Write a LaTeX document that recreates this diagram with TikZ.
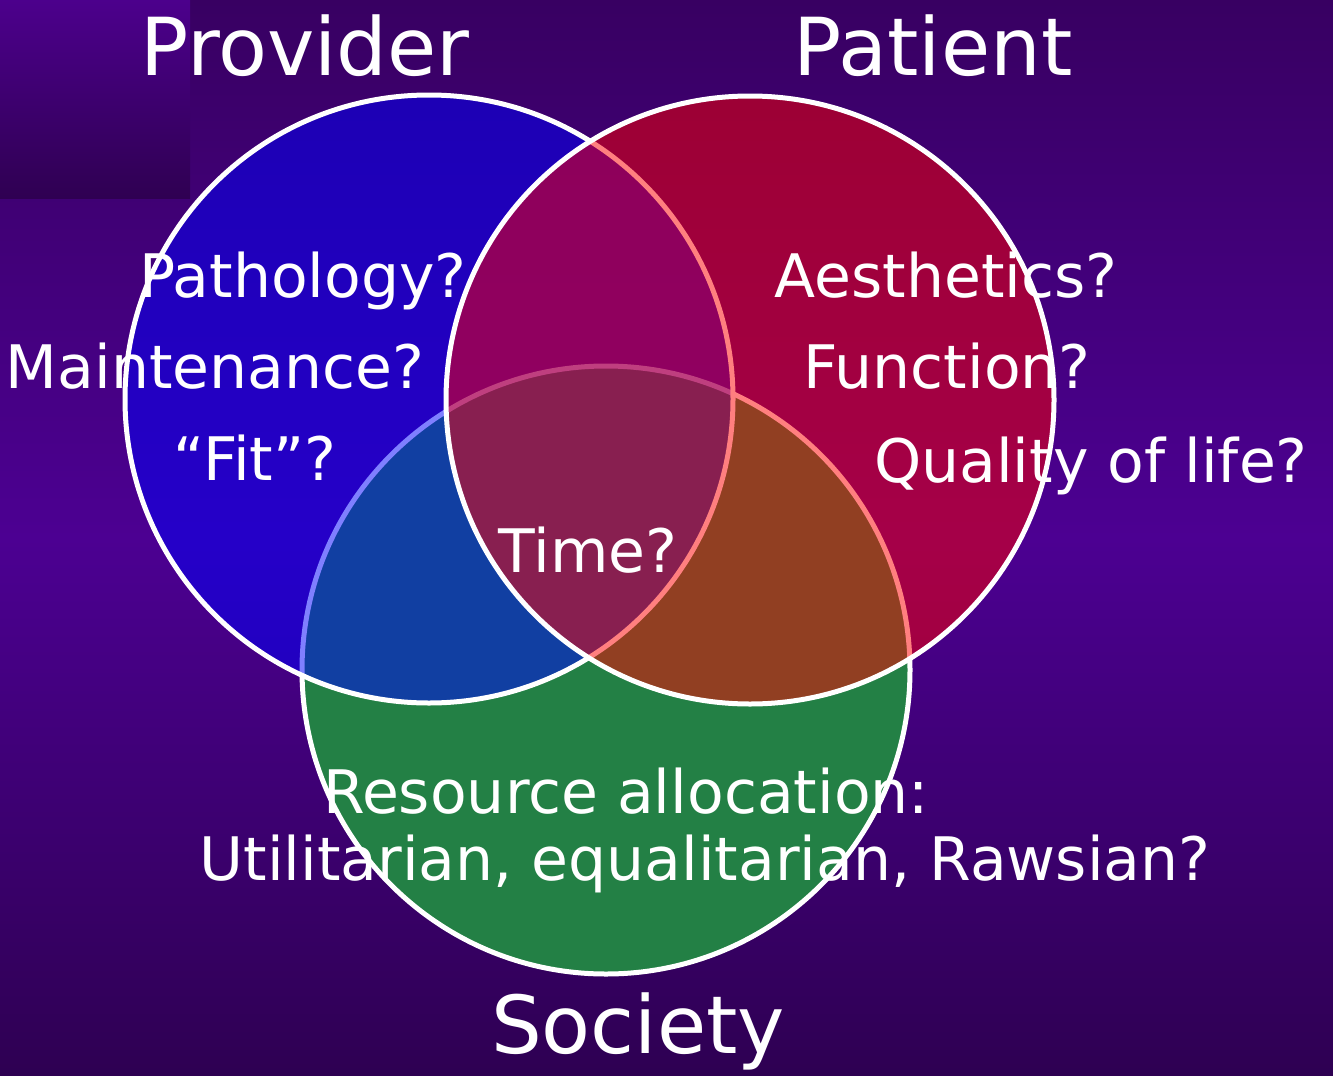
\documentclass[tikz,border=0pt]{standalone}
\usepackage{fontspec}
\setmainfont{DejaVu Sans}

\definecolor{bgtop}{HTML}{380062}
\definecolor{bgmid}{HTML}{4C0092}
\definecolor{bgbot}{HTML}{2E0052}
\definecolor{boxtop}{HTML}{4C008C}
\definecolor{boxbot}{HTML}{2F0052}
\definecolor{societygreen}{HTML}{238045}

\begin{document}
\begin{tikzpicture}[x=1pt, y=-1pt,
    title/.style={text=white, inner sep=0pt, anchor=base, font=\fontsize{80}{90}\selectfont},
    item/.style={text=white, inner sep=0pt, anchor=base, font=\fontsize{60}{66}\selectfont},
    ring/.style={draw=white, line width=5pt}]

  % draw the background
  \shade[top color=bgtop, bottom color=bgbot, middle color=bgmid] (0,0) rectangle (1333,1076);
  \useasboundingbox (0,0) rectangle (1333,1076);
  \shade[top color=boxtop, bottom color=boxbot] (0,0) rectangle (190,198);

  % draw the three circles
  \filldraw[ring, fill=societygreen] (606,670) circle (304);
  \filldraw[ring, fill=blue, fill opacity=0.5] (429,399) circle (304);
  \filldraw[ring, fill=red, fill opacity=0.5] (750,400) circle (304);

  % circle titles
  \node[title] (provider) at (305,75) {Provider};
  \node[title] (patient) at (933,75) {Patient};
  \node[title] (society) at (638,1053) {Society};

  % provider questions
  \node[item] (pathology) at (303,297) {Pathology?};
  \node[item] (maintenance) at (215,388) {Maintenance?};
  \node[item] (fit) at (255,480) {“Fit”?};

  % patient questions
  \node[item] (aesthetics) at (946,297) {Aesthetics?};
  \node[item] (function) at (947,388) {Function?};
  \node[item] (quality) at (1091,482) {Quality of life?};

  % shared and society questions
  \node[item] (time) at (588,572) {Time?};
  \node[item] (resource) at (626,813) {Resource allocation:};
  \node[item] (ethics) at (705,880) {Utilitarian, equalitarian, Rawsian?};
\end{tikzpicture}
\end{document}
